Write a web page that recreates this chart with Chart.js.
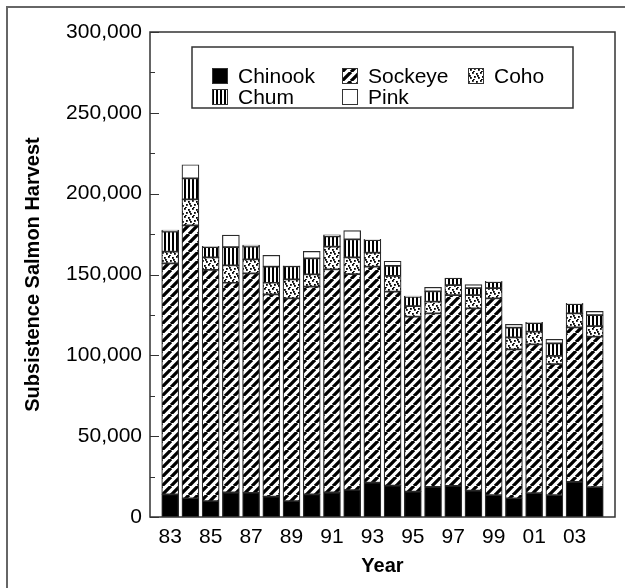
<!DOCTYPE html>
<html>
<head>
<meta charset="utf-8">
<title>Subsistence Salmon Harvest</title>
<script src="https://cdn.jsdelivr.net/npm/chart.js@4.4.0/dist/chart.umd.min.js"></script>
<style>
  html, body { margin: 0; padding: 0; background: #fff; }
  #wrap { width: 625px; height: 588px; position: relative; }
</style>
</head>
<body>
<div id="wrap"><canvas id="salmonChart" width="625" height="588"></canvas></div>
<script>
// harvest by year (fish)
const years = ['83', '84', '85', '86', '87', '88', '89', '90', '91', '92', '93',
  '94', '95', '96', '97', '98', '99', '00', '01', '02', '03', '04'];
const chinook = [14000, 11600, 9900, 15300, 15000, 12600, 9900, 14000, 15300, 16700, 21200,
  19400, 15700, 18700, 19200, 16300, 13600, 11600, 14700, 13500, 21800, 18500];
const sockeye = [142900, 168800, 142900, 129600, 135700, 125100, 125400, 128500, 137900, 133600, 133600,
  120000, 108200, 107300, 118100, 112800, 121700, 92100, 92100, 81000, 95500, 93000];
const coho = [7200, 16100, 7800, 10800, 8700, 7200, 11700, 7600, 14000, 10300, 8700,
  9700, 6600, 7200, 6200, 8200, 6200, 7400, 7800, 5100, 8700, 6600];
const chum = [12400, 13000, 6300, 11300, 7800, 9900, 8100, 9900, 6400, 11200, 7800,
  6200, 5700, 6400, 4300, 4200, 3800, 6000, 5300, 7800, 5700, 6800];
const pink = [1000, 8400, 500, 7400, 1000, 7100, 300, 4300, 1000, 5300, 500,
  2900, 500, 2500, 0, 2200, 500, 2100, 500, 2500, 500, 2300];
const seriesNames = ['Chinook', 'Sockeye', 'Coho', 'Chum', 'Pink'];
const yMax = 300000;
const yStep = 50000;
const yMinorStep = 25000;

// one empty slot on each side of the years, like the original axis
const axisLabels = ['82', ...years, '05'];
const pad = arr => [null, ...arr, null];

const FONT = '"Liberation Sans", Arial, Helvetica, sans-serif';
Chart.defaults.font.family = FONT;
Chart.defaults.color = '#000';

function makePattern(w, h, draw) {
  const c = document.createElement('canvas');
  c.width = w;
  c.height = h;
  const g = c.getContext('2d');
  g.fillStyle = '#fff';
  g.fillRect(0, 0, w, h);
  g.fillStyle = '#000';
  g.strokeStyle = '#000';
  draw(g, w, h);
  return g.createPattern(c, 'repeat');
}

const diagPattern = makePattern(9, 9, (g, s) => {
  g.lineWidth = 3.3;
  g.beginPath();
  for (let k = -1; k <= 1; k++) {
    g.moveTo(k * s, s);
    g.lineTo(k * s + s, 0);
  }
  g.stroke();
});
const dotPattern = makePattern(8, 8, g => {
  [[0, 0], [4, 1], [2, 4], [6, 5], [1, 7], [5, 3]].forEach(([x, y]) => g.fillRect(x, y, 1.8, 1.8));
});
const stripePattern = makePattern(4, 4, g => {
  g.fillRect(0, 0, 2, 4);
});

const fills = ['#000', diagPattern, dotPattern, stripePattern, '#fff'];
const seriesData = [chinook, sockeye, coho, chum, pink];

const framePlugin = {
  id: 'frame',
  beforeDraw(chart) {
    const ctx = chart.ctx;
    ctx.save();
    ctx.strokeStyle = '#666';
    ctx.lineWidth = 2;
    ctx.beginPath();
    ctx.moveTo(7, 588);
    ctx.lineTo(7, 7);
    ctx.lineTo(625, 7);
    ctx.stroke();
    ctx.restore();
  },
  afterDatasetsDraw(chart) {
    const { ctx, chartArea: a, scales: { y } } = chart;
    ctx.save();
    ctx.strokeStyle = '#333';
    ctx.lineWidth = 1.5;
    ctx.strokeRect(a.left, a.top, a.right - a.left, a.bottom - a.top);
    ctx.lineWidth = 1.2;
    ctx.beginPath();
    for (let v = 0; v <= yMax; v += yMinorStep) {
      const py = Math.round(y.getPixelForValue(v)) + 0.5;
      const len = v % yStep === 0 ? 9 : 5;
      ctx.moveTo(a.left, py);
      ctx.lineTo(a.left + len, py);
    }
    ctx.stroke();
    ctx.restore();
  },
  afterDraw(chart) {
    const ctx = chart.ctx;
    ctx.save();
    // legend box
    ctx.fillStyle = '#fff';
    ctx.fillRect(192, 47, 381, 61);
    ctx.strokeStyle = '#333';
    ctx.lineWidth = 1.5;
    ctx.strokeRect(192, 47, 381, 61);
    const cols = [212, 342, 468];
    const rows = [76, 97];
    ctx.font = '21px ' + FONT;
    ctx.textBaseline = 'middle';
    seriesNames.forEach((name, i) => {
      const x = cols[i % 3];
      const yy = rows[Math.floor(i / 3)];
      ctx.fillStyle = fills[i];
      ctx.fillRect(x, yy - 8, 16, 16);
      ctx.strokeStyle = '#333';
      ctx.lineWidth = 1;
      ctx.strokeRect(x + 0.5, yy - 7.5, 15, 15);
      ctx.fillStyle = '#000';
      ctx.fillText(name, x + 26, yy + 1);
    });
    ctx.restore();
  }
};

const datasets = seriesNames.map((name, i) => ({
  label: name,
  data: pad(seriesData[i]),
  backgroundColor: fills[i],
  borderColor: '#2a2a2a',
  borderWidth: 1.2,
  borderSkipped: false,
  barThickness: 17
}));

new Chart(document.getElementById('salmonChart'), {
  type: 'bar',
  data: { labels: axisLabels, datasets },
  options: {
    responsive: false,
    animation: false,
    layout: { padding: { top: 32, right: 10, left: 0, bottom: 0 } },
    plugins: {
      legend: { display: false },
      tooltip: { enabled: false }
    },
    scales: {
      x: {
        stacked: true,
        offset: false,
        grid: { display: false, drawTicks: false },
        border: { display: false },
        ticks: {
          autoSkip: false,
          maxRotation: 0,
          padding: 8,
          font: { size: 21 },
          color: '#000',
          callback: function (val, idx) {
            return (idx % 2 === 1 && idx <= 21) ? this.getLabelForValue(val) : '';
          }
        },
        title: {
          display: true,
          text: 'Year',
          font: { size: 20, weight: 'bold' },
          padding: { top: 0, bottom: 10 }
        },
        afterFit(scale) { scale.height = 71; }
      },
      y: {
        stacked: true,
        min: 0,
        max: yMax,
        grid: { display: false, drawTicks: false },
        border: { display: false },
        ticks: {
          stepSize: yStep,
          padding: 8,
          font: { size: 21 },
          color: '#000',
          callback: v => v.toLocaleString('en-US')
        },
        title: {
          display: true,
          text: 'Subsistence Salmon Harvest',
          font: { size: 20, weight: 'bold' },
          padding: { top: 21, bottom: 0 }
        },
        afterFit(scale) { scale.width = 150; }
      }
    }
  },
  plugins: [framePlugin]
});
</script>
</body>
</html>
